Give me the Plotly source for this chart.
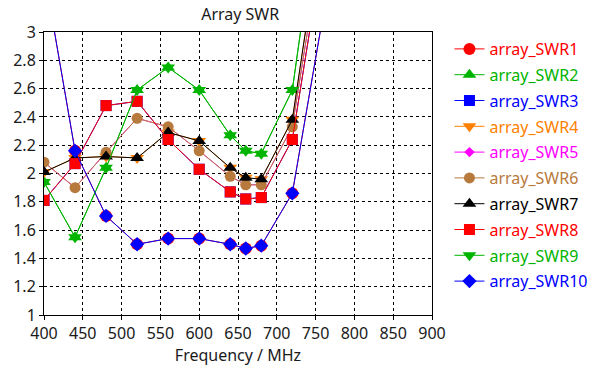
import plotly.graph_objects as go

# Frequency points (MHz)
freq = [400, 440, 480, 520, 560, 600, 640, 660, 680, 720, 760]

# SWR of each array port
swr1 = [3.43, 2.16, 1.70, 1.50, 1.54, 1.54, 1.50, 1.47, 1.49, 1.86, 3.13]
swr2 = [1.94, 1.55, 2.04, 2.59, 2.75, 2.59, 2.27, 2.16, 2.14, 2.59, 4.15]
swr3 = [1.81, 2.07, 2.48, 2.51, 2.24, 2.03, 1.87, 1.82, 1.83, 2.24, 3.61]
swr4 = [2.01, 2.11, 2.12, 2.11, 2.29, 2.23, 2.04, 1.97, 1.96, 2.38, 3.85]
swr5 = [2.08, 1.90, 2.15, 2.39, 2.33, 2.16, 1.98, 1.92, 1.92, 2.33, 3.71]
swr6 = [2.08, 1.90, 2.15, 2.39, 2.33, 2.16, 1.98, 1.92, 1.92, 2.33, 3.71]
swr7 = [2.01, 2.11, 2.12, 2.11, 2.29, 2.23, 2.04, 1.97, 1.96, 2.38, 3.85]
swr8 = [1.81, 2.07, 2.48, 2.51, 2.24, 2.03, 1.87, 1.82, 1.83, 2.24, 3.61]
swr9 = [1.94, 1.55, 2.04, 2.59, 2.75, 2.59, 2.27, 2.16, 2.14, 2.59, 4.15]
swr10 = [3.43, 2.16, 1.70, 1.50, 1.54, 1.54, 1.50, 1.47, 1.49, 1.86, 3.13]

names = ["array_SWR1", "array_SWR2", "array_SWR3", "array_SWR4", "array_SWR5",
         "array_SWR6", "array_SWR7", "array_SWR8", "array_SWR9", "array_SWR10"]
series = [swr1, swr2, swr3, swr4, swr5, swr6, swr7, swr8, swr9, swr10]

colors = ["#ff0000", "#00b400", "#0000ff", "#ff8000", "#ff00ff",
          "#b87a3c", "#000000", "#ff0000", "#00b400", "#0000ff"]
symbols = ["circle", "triangle-up", "square", "triangle-down", "diamond",
           "circle", "triangle-up", "square", "triangle-down", "diamond"]
sizes = [12, 12, 11, 12, 8, 11, 12, 11, 12, 11]

FONT = "Noto Sans, DejaVu Sans, sans-serif"

fig = go.Figure()
for i, (name, ys) in enumerate(zip(names, series)):
    fig.add_trace(go.Scatter(
        x=freq, y=ys, mode="lines+markers",
        name=f"<span style='color:{colors[i]}'>{name}</span>",
        legendgroup=name,
        line=dict(color=colors[i], width=1),
        marker=dict(symbol=symbols[i], size=sizes[i], color=colors[i],
                    line=dict(width=0)),
    ))

axis_common = dict(
    showline=True, linecolor="#000000", linewidth=1, mirror=True,
    ticks="outside", ticklen=4, tickcolor="#000000",
    showgrid=True, gridcolor="#000000", gridwidth=1, griddash="3px,3px",
    zeroline=False,
    tickfont=dict(family=FONT, size=16, color="#1a1a1a"),
)

fig.update_layout(
    width=605, height=376,
    margin=dict(l=44, r=169, t=32, b=61),
    paper_bgcolor="#ffffff", plot_bgcolor="#ffffff",
    title=dict(text="Array SWR", x=0.397, xanchor="center", y=0.962, yanchor="middle",
               font=dict(family=FONT, size=16, color="#1a1a1a")),
    xaxis=dict(range=[400, 900], dtick=50, tick0=400,
               title=dict(text="Frequency / MHz", standoff=6,
                          font=dict(family=FONT, size=16, color="#1a1a1a")),
               **axis_common),
    yaxis=dict(range=[1, 3], dtick=0.2, tick0=1, **axis_common),
    showlegend=True,
    legend=dict(x=1.045, xanchor="left", y=1.0, yanchor="top",
                font=dict(family=FONT, size=16),
                traceorder="grouped", tracegroupgap=2,
                bgcolor="rgba(0,0,0,0)", borderwidth=0),
)

fig.write_html("out.html")
